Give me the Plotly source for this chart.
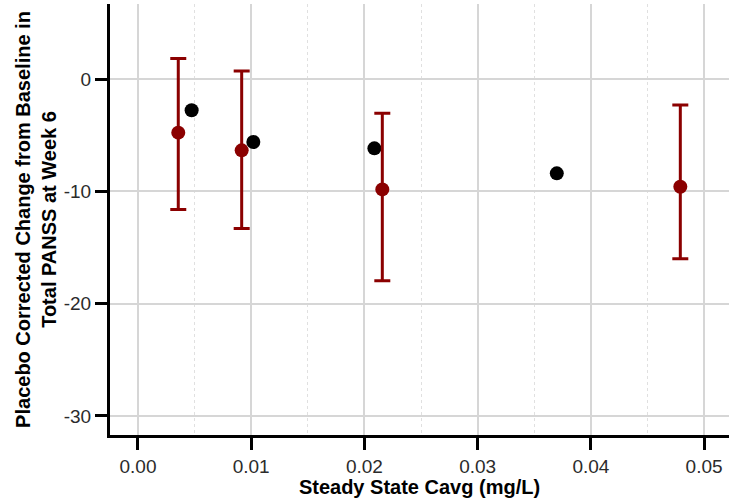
import plotly.graph_objects as go

# Observed (placebo-corrected) change with 95% CI
obs_x = [0.00356, 0.00916, 0.02158, 0.0479]
obs_y = [-4.76, -6.34, -9.82, -9.58]
obs_hi = [1.85, 0.74, -3.04, -2.29]
obs_lo = [-11.6, -13.3, -17.95, -16.0]

# Model-predicted points
pred_x = [0.00474, 0.01019, 0.02088, 0.03699]
pred_y = [-2.77, -5.6, -6.16, -8.39]

x_ticks = [0.00, 0.01, 0.02, 0.03, 0.04, 0.05]
x_labels = ["0.00", "0.01", "0.02", "0.03", "0.04", "0.05"]
y_ticks = [0, -10, -20, -30]
y_labels = ["0", "-10", "-20", "-30"]

RED = "#8B0000"
FONT = "Liberation Sans, Arial, sans-serif"

fig = go.Figure()
fig.add_trace(go.Scatter(
    x=pred_x, y=pred_y, mode="markers",
    marker=dict(color="black", size=14),
    showlegend=False, hoverinfo="x+y"))
fig.add_trace(go.Scatter(
    x=obs_x, y=obs_y, mode="markers",
    marker=dict(color=RED, size=14),
    error_y=dict(type="data", symmetric=False,
                 array=[h - y for h, y in zip(obs_hi, obs_y)],
                 arrayminus=[y - l for l, y in zip(obs_lo, obs_y)],
                 color=RED, thickness=3, width=8),
    showlegend=False, hoverinfo="x+y"))

fig.update_layout(
    width=731, height=498,
    margin=dict(l=110, r=2, t=4, b=63),
    plot_bgcolor="white", paper_bgcolor="white",
    font=dict(family=FONT, size=19, color="#2b2b2b"),
    xaxis=dict(
        range=[-0.00247, 0.0522],
        tickvals=x_ticks, ticktext=x_labels,
        showline=True, linecolor="black", linewidth=3,
        ticks="outside", ticklen=12, tickwidth=3, tickcolor="black",
        showgrid=True, gridcolor="#d6d6d6", gridwidth=1.5,
        zeroline=False,
        minor=dict(dtick=0.005, tick0=0.005, showgrid=True,
                   gridcolor="#e0e0e0", gridwidth=1, griddash="dot", ticks=""),
        tickfont=dict(size=19, color="#2b2b2b"),
        title=dict(text="<b>Steady State Cavg (mg/L)</b>",
                   font=dict(size=20, color="black"), standoff=1),
    ),
    yaxis=dict(
        range=[-31.7, 6.7],
        tickvals=y_ticks, ticktext=y_labels,
        showline=True, linecolor="black", linewidth=3,
        ticks="outside", ticklen=12, tickwidth=3, tickcolor="black",
        showgrid=True, gridcolor="#d6d6d6", gridwidth=1.5,
        zeroline=False,
        tickfont=dict(size=19, color="#2b2b2b"),
        title=dict(text="<b>Placebo Corrected Change from Baseline in<br>Total PANSS at Week 6</b>",
                   font=dict(size=20, color="black"), standoff=2),
    ),
)

fig.write_html("out.html")
